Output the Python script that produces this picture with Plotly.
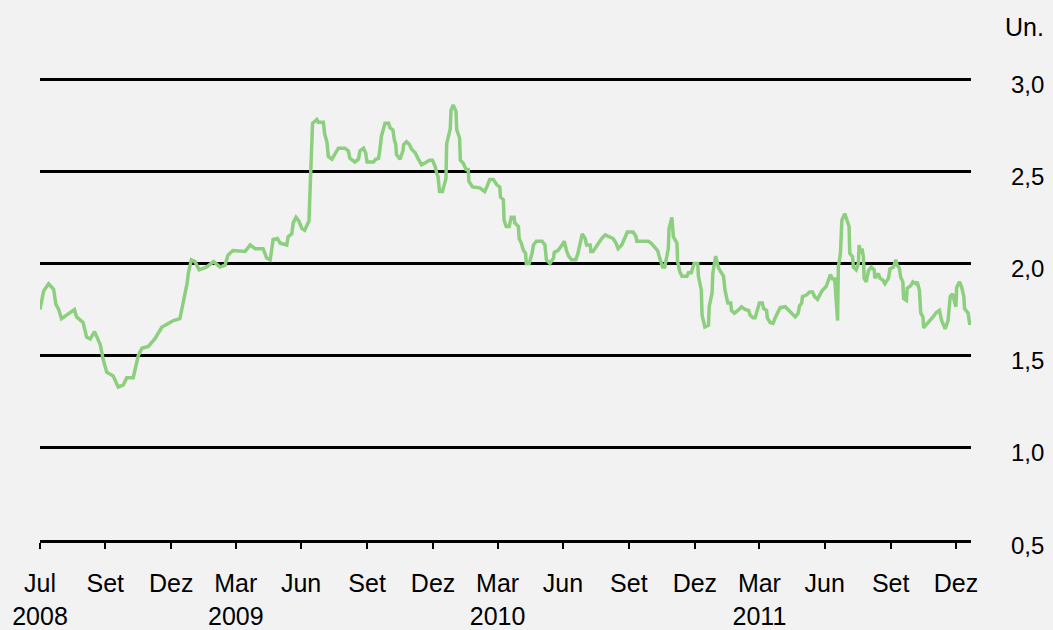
import plotly.graph_objects as go

dates = [
    "2008-07-01", "2008-07-06", "2008-07-13", "2008-07-20", "2008-07-23", "2008-07-27", "2008-07-31",
    "2008-08-07", "2008-08-18", "2008-08-21", "2008-08-30", "2008-09-04", "2008-09-09", "2008-09-15",
    "2008-09-23", "2008-09-27", "2008-10-02", "2008-10-11", "2008-10-18", "2008-10-25", "2008-10-30",
    "2008-11-08", "2008-11-15", "2008-11-20", "2008-11-29", "2008-12-08", "2008-12-18", "2008-12-25",
    "2009-01-03", "2009-01-12", "2009-01-17", "2009-01-22", "2009-01-24", "2009-01-28", "2009-02-02",
    "2009-02-08", "2009-02-18", "2009-02-28", "2009-03-09", "2009-03-16", "2009-03-20", "2009-03-27",
    "2009-04-13", "2009-04-20", "2009-04-27", "2009-05-08", "2009-05-13", "2009-05-18", "2009-05-22",
    "2009-05-28", "2009-06-01", "2009-06-10", "2009-06-12", "2009-06-17", "2009-06-19", "2009-06-23",
    "2009-06-27", "2009-07-01", "2009-07-05", "2009-07-11", "2009-07-13", "2009-07-16", "2009-07-22",
    "2009-07-24", "2009-07-31", "2009-08-02", "2009-08-05", "2009-08-07", "2009-08-12", "2009-08-16",
    "2009-08-21", "2009-08-30", "2009-09-04", "2009-09-06", "2009-09-13", "2009-09-18", "2009-09-20",
    "2009-09-25", "2009-09-28", "2009-09-30", "2009-10-09", "2009-10-12", "2009-10-16", "2009-10-18",
    "2009-10-20", "2009-10-25", "2009-10-30", "2009-11-01", "2009-11-05", "2009-11-07", "2009-11-09",
    "2009-11-10", "2009-11-15", "2009-11-19", "2009-11-20", "2009-11-24", "2009-11-28", "2009-12-01",
    "2009-12-06", "2009-12-10", "2009-12-15", "2009-12-22", "2009-12-26", "2009-12-30", "2010-01-03",
    "2010-01-05", "2010-01-07", "2010-01-09", "2010-01-13", "2010-01-18", "2010-01-19", "2010-01-24",
    "2010-01-25", "2010-01-28", "2010-02-01", "2010-02-02", "2010-02-06", "2010-02-07", "2010-02-11",
    "2010-02-15", "2010-02-18", "2010-02-19", "2010-02-24", "2010-03-06", "2010-03-13", "2010-03-16",
    "2010-03-20", "2010-03-25", "2010-03-30", "2010-04-03", "2010-04-04", "2010-04-08", "2010-04-09",
    "2010-04-12", "2010-04-16", "2010-04-19", "2010-04-23", "2010-04-24", "2010-04-29", "2010-04-30",
    "2010-05-03", "2010-05-06", "2010-05-09", "2010-05-10", "2010-05-14", "2010-05-18", "2010-05-20",
    "2010-05-24", "2010-06-01", "2010-06-05", "2010-06-07", "2010-06-12", "2010-06-17", "2010-06-18",
    "2010-06-23", "2010-06-28", "2010-07-02", "2010-07-05", "2010-07-08", "2010-07-12", "2010-07-18",
    "2010-07-21", "2010-07-24", "2010-07-27", "2010-07-31", "2010-08-02", "2010-08-07", "2010-08-08",
    "2010-08-11", "2010-08-18", "2010-08-23", "2010-08-28", "2010-09-02", "2010-09-08", "2010-09-12",
    "2010-09-15", "2010-09-20", "2010-09-25", "2010-09-28", "2010-10-06", "2010-10-10", "2010-10-11",
    "2010-10-27", "2010-10-31", "2010-11-04", "2010-11-09", "2010-11-12", "2010-11-16", "2010-11-19",
    "2010-11-22", "2010-11-24", "2010-11-25", "2010-11-29", "2010-12-01", "2010-12-06", "2010-12-07",
    "2010-12-10", "2010-12-13", "2010-12-20", "2010-12-22", "2010-12-26", "2010-12-30", "2011-01-04",
    "2011-01-05", "2011-01-09", "2011-01-10", "2011-01-14", "2011-01-19", "2011-01-20", "2011-01-24",
    "2011-01-25", "2011-01-29", "2011-02-02", "2011-02-09", "2011-02-11", "2011-02-15", "2011-02-19",
    "2011-02-20", "2011-02-24", "2011-03-01", "2011-03-06", "2011-03-11", "2011-03-16", "2011-03-18",
    "2011-03-22", "2011-03-25", "2011-03-28", "2011-03-31", "2011-04-04", "2011-04-06", "2011-04-10",
    "2011-04-11", "2011-04-15", "2011-04-19", "2011-04-22", "2011-04-25", "2011-04-29", "2011-05-06",
    "2011-05-13", "2011-05-20", "2011-05-24", "2011-05-26", "2011-05-29", "2011-05-30", "2011-06-05",
    "2011-06-09", "2011-06-13", "2011-06-16", "2011-06-20", "2011-06-23", "2011-06-26", "2011-07-02",
    "2011-07-05", "2011-07-08", "2011-07-11", "2011-07-14", "2011-07-18", "2011-07-19", "2011-07-22",
    "2011-07-24", "2011-07-28", "2011-07-30", "2011-08-03", "2011-08-04", "2011-08-08", "2011-08-09",
    "2011-08-13", "2011-08-16", "2011-08-17", "2011-08-19", "2011-08-21", "2011-08-23", "2011-08-24",
    "2011-08-27", "2011-08-30", "2011-09-03", "2011-09-07", "2011-09-08", "2011-09-13", "2011-09-15",
    "2011-09-19", "2011-09-22", "2011-09-27", "2011-09-29", "2011-10-04", "2011-10-07", "2011-10-09",
    "2011-10-12", "2011-10-14", "2011-10-17", "2011-10-18", "2011-10-22", "2011-10-23", "2011-10-28",
    "2011-10-31", "2011-11-04", "2011-11-06", "2011-11-09", "2011-11-11", "2011-11-14", "2011-11-15",
    "2011-11-19", "2011-11-24", "2011-11-28", "2011-12-03", "2011-12-07", "2011-12-10", "2011-12-15",
    "2011-12-19", "2011-12-22", "2011-12-25", "2011-12-27", "2011-12-30", "2011-12-31", "2012-01-04",
    "2012-01-07", "2012-01-10", "2012-01-11", "2012-01-16", "2012-01-18", "2012-01-20",
]

values = [
    1.75, 1.85, 1.89, 1.86, 1.78, 1.75, 1.70,
    1.72, 1.75, 1.71, 1.68, 1.60, 1.59, 1.63,
    1.56, 1.48, 1.41, 1.39, 1.33, 1.34, 1.38,
    1.38, 1.50, 1.54, 1.55, 1.59, 1.655, 1.67,
    1.69, 1.70, 1.79, 1.89, 1.95, 2.02, 2.01,
    1.965, 1.98, 2.01, 1.98, 1.99, 2.045, 2.07,
    2.065, 2.10, 2.08, 2.08, 2.03, 2.02, 2.13,
    2.135, 2.11, 2.10, 2.145, 2.16, 2.22, 2.25,
    2.23, 2.19, 2.18, 2.23, 2.45, 2.76, 2.78,
    2.765, 2.765, 2.70, 2.66, 2.58, 2.565, 2.59,
    2.625, 2.625, 2.61, 2.57, 2.55, 2.565, 2.61,
    2.625, 2.60, 2.55, 2.55, 2.565, 2.57, 2.62,
    2.69, 2.76, 2.76, 2.735, 2.725, 2.67, 2.645,
    2.59, 2.565, 2.61, 2.645, 2.66, 2.645, 2.62,
    2.60, 2.57, 2.535, 2.55, 2.56, 2.56, 2.525,
    2.49, 2.47, 2.39, 2.39, 2.46, 2.65, 2.73,
    2.83, 2.86, 2.825, 2.725, 2.68, 2.56, 2.545,
    2.51, 2.51, 2.445, 2.415, 2.41, 2.39, 2.415,
    2.455, 2.455, 2.425, 2.415, 2.36, 2.345, 2.235,
    2.20, 2.20, 2.25, 2.25, 2.22, 2.20, 2.135,
    2.11, 2.07, 2.055, 2.00, 2.00, 2.055, 2.10,
    2.12, 2.12, 2.10, 2.02, 2.00, 2.03, 2.06,
    2.07, 2.095, 2.12, 2.07, 2.04, 2.02, 2.02,
    2.055, 2.12, 2.16, 2.135, 2.10, 2.10, 2.065,
    2.065, 2.11, 2.135, 2.155, 2.145, 2.135, 2.11,
    2.08, 2.10, 2.14, 2.17, 2.17, 2.145, 2.12,
    2.12, 2.11, 2.09, 2.07, 2.03, 1.98, 1.98,
    2.045, 2.08, 2.19, 2.25, 2.145, 2.11, 2.01,
    1.955, 1.93, 1.93, 1.95, 1.95, 2.00, 2.00,
    1.93, 1.855, 1.72, 1.655, 1.665, 1.765, 1.84,
    1.945, 2.04, 1.975, 1.93, 1.855, 1.785, 1.785,
    1.745, 1.73, 1.745, 1.765, 1.75, 1.745, 1.72,
    1.705, 1.705, 1.745, 1.785, 1.785, 1.755, 1.745,
    1.705, 1.68, 1.675, 1.705, 1.73, 1.76, 1.765,
    1.735, 1.71, 1.73, 1.77, 1.785, 1.82, 1.83,
    1.845, 1.845, 1.82, 1.805, 1.83, 1.85, 1.875,
    1.91, 1.94, 1.915, 1.915, 1.69, 1.98, 2.055,
    2.235, 2.27, 2.245, 2.20, 2.055, 2.035, 1.98,
    1.965, 2.00, 2.10, 2.055, 2.08, 2.035, 1.92,
    1.90, 1.96, 1.98, 1.965, 1.92, 1.945, 1.92,
    1.91, 1.89, 1.92, 1.97, 1.98, 2.02, 1.99,
    1.975, 1.925, 1.90, 1.81, 1.80, 1.865, 1.88,
    1.90, 1.89, 1.90, 1.855, 1.73, 1.71, 1.65,
    1.67, 1.69, 1.71, 1.735, 1.745, 1.69, 1.645,
    1.69, 1.82, 1.835, 1.80, 1.765, 1.87, 1.90,
    1.87, 1.82, 1.755, 1.73, 1.675, 1.675,
]

x_tick_dates = [
    "2008-07-01", "2008-09-30", "2008-12-31", "2009-03-31", "2009-06-30",
    "2009-09-30", "2009-12-31", "2010-03-31", "2010-06-30", "2010-09-30",
    "2010-12-31", "2011-03-31", "2011-06-30", "2011-09-30", "2011-12-30",
]
x_tick_labels = [
    "Jul<br>2008", "Set", "Dez", "Mar<br>2009", "Jun",
    "Set", "Dez", "Mar<br>2010", "Jun", "Set",
    "Dez", "Mar<br>2011", "Jun", "Set", "Dez",
]
y_ticks = [0.5, 1.0, 1.5, 2.0, 2.5, 3.0]
y_tick_labels = ["0,5", "1,0", "1,5", "2,0", "2,5", "3,0"]
unit_label = "Un."

FONT = "Liberation Sans, Arial, sans-serif"
BG = "#f2f2f2"

fig = go.Figure()
fig.add_trace(go.Scatter(
    x=dates, y=values, mode="lines",
    line=dict(color="#8ccf7e", width=3.5),
    showlegend=False, hoverinfo="skip",
))

fig.update_layout(
    width=1053, height=630,
    margin=dict(l=40, r=82, t=77, b=90, autoexpand=False),
    paper_bgcolor=BG, plot_bgcolor=BG,
    font=dict(family=FONT, size=24, color="#000000"),
    showlegend=False,
)

fig.update_xaxes(
    type="date",
    range=["2008-07-01", "2012-01-20"],
    tickmode="array", tickvals=x_tick_dates, ticktext=x_tick_labels,
    showgrid=False, zeroline=False,
    showline=True, linecolor="#000000", linewidth=3,
    ticks="outside", ticklen=6, tickwidth=2, tickcolor="#000000",
    tickfont=dict(family=FONT, size=25, color="#000000"),
    ticklabelstandoff=13,
    automargin=False,
)

fig.update_yaxes(
    range=[0.5, 3.011],
    tickmode="array", tickvals=y_ticks,
    showticklabels=False,
    showgrid=True, gridcolor="#000000", gridwidth=3,
    zeroline=False, showline=False,
    automargin=False,
)

for v, lab in zip(y_ticks, y_tick_labels):
    fig.add_annotation(
        x=1, xref="paper", y=v, yref="y",
        text=lab, showarrow=False,
        xanchor="left", yanchor="middle",
        xshift=38, yshift=-5,
        font=dict(family=FONT, size=24, color="#000000"),
    )

fig.add_annotation(
    x=1, xref="paper", y=1, yref="paper",
    text=unit_label, showarrow=False,
    xanchor="left", yanchor="middle",
    xshift=32, yshift=50,
    font=dict(family=FONT, size=25, color="#000000"),
)

fig.write_html(
    "out.html",
    config={"displayModeBar": False},
    post_script="document.body.style.margin='0';document.body.style.background='#f2f2f2';",
)
